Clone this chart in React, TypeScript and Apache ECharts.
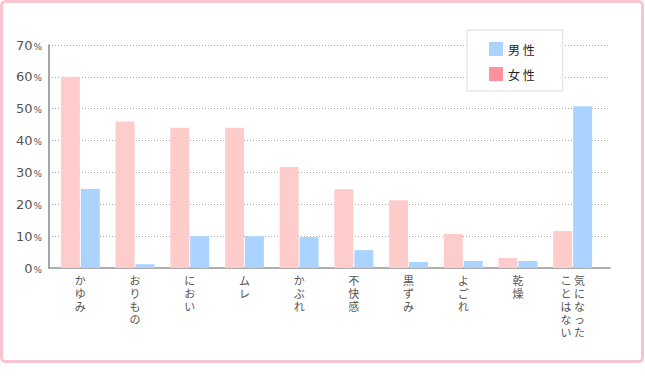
import React, { useEffect, useRef } from "react";
import * as echarts from "echarts";

const categories = ["かゆみ", "おりもの", "におい", "ムレ", "かぶれ", "不快感", "黒ずみ", "よごれ", "乾燥", "気になった\nことはない"];
const femaleValues = [60, 46, 44, 44, 31.7, 24.8, 21.3, 10.7, 3.1, 11.6];
const maleValues = [24.8, 1.2, 10, 10, 9.7, 5.6, 1.9, 2.2, 2.2, 50.8];
const yTicks = [0, 10, 20, 30, 40, 50, 60, 70];
const seriesNames = ["女性", "男性"];

const FEMALE_BAR = "#ffcccc";
const FEMALE_LEGEND = "#ff919f";
const MALE = "#aad4ff";

function verticalLabel(name: string): string {
  const cols = name.split("\n");
  if (cols.length === 1) return cols[0].split("").join("\n");
  // vertical writing: right column first, so left column is the later one
  const right = cols[0].split("");
  const left = cols[1].split("");
  const n = Math.max(right.length, left.length);
  const rows: string[] = [];
  for (let i = 0; i < n; i++) rows.push((left[i] || "\u3000") + " " + (right[i] || "\u3000"));
  return rows.join("\n");
}

export default function App() {
  const ref = useRef<HTMLDivElement>(null);
  useEffect(() => {
    if (!ref.current) return;
    const chart = echarts.init(ref.current, undefined, { renderer: "svg" });
    chart.setOption({
      animation: false,
      backgroundColor: "#ffffff",
      graphic: [
        {
          type: "rect",
          shape: { x: 1.5, y: 1.5, width: 641, height: 360, r: 4 },
          style: { fill: "none", stroke: "#f8c4cf", lineWidth: 3 },
          z: 0,
        },
      ],
      grid: [
        { left: 49, right: 35, top: 45, bottom: 110 },
        { left: 53, right: 45, top: 45, bottom: 110 },
      ],
      legend: {
        orient: "vertical",
        left: 467,
        top: 30,
        padding: [12, 28, 10, 22],
        itemGap: 11,
        itemWidth: 14,
        itemHeight: 14,
        backgroundColor: "#ffffff",
        borderColor: "#dddddd",
        borderWidth: 1,
        icon: "rect",
        data: [
          { name: seriesNames[1], itemStyle: { color: MALE } },
          { name: seriesNames[0], itemStyle: { color: FEMALE_LEGEND } },
        ],
        formatter: (n: string) => n.split("").join(" "),
        textStyle: { fontSize: 12, color: "#222", fontFamily: "Noto Sans CJK JP" },
      },
      xAxis: [
        {
          gridIndex: 0,
          type: "category",
          data: categories,
          axisLine: { lineStyle: { color: "#999", width: 1.5 } },
          axisTick: { show: false },
          axisLabel: { show: false },
          splitLine: { show: false },
        },
        {
          gridIndex: 1,
          type: "category",
          data: categories,
          axisLine: { show: false },
          axisTick: { show: false },
          axisLabel: {
            interval: 0,
            margin: 5,
            fontSize: 11,
            lineHeight: 13,
            color: "#555",
            fontFamily: "Noto Sans CJK JP",
            verticalAlign: "top",
            formatter: (v: string) => verticalLabel(v),
          },
        },
      ],
      yAxis: [
        {
          gridIndex: 0,
          type: "value",
          min: 0,
          max: 70,
          interval: 10,
          axisLine: { show: true, lineStyle: { color: "#888", width: 1.5 } },
          axisTick: { show: false },
          splitLine: { lineStyle: { color: "#aaa", type: [1, 2], width: 1 } },
          axisLabel: {
            margin: 7,
            formatter: (v: number) => (yTicks.includes(v) ? `{n|${v}}{p|%}` : ""),
            rich: {
              n: { fontSize: 13, color: "#555", fontFamily: "DejaVu Sans" },
              p: { fontSize: 9, color: "#555", fontFamily: "DejaVu Sans", padding: [3, 0, 0, 1] },
            },
          },
        },
        {
          gridIndex: 1,
          type: "value",
          min: 0,
          max: 70,
          interval: 10,
          show: false,
          splitLine: { show: false },
        },
      ],
      series: [
        {
          name: seriesNames[0],
          type: "bar",
          xAxisIndex: 1,
          yAxisIndex: 1,
          data: femaleValues,
          barWidth: 19,
          barGap: "5%",
          itemStyle: { color: FEMALE_BAR },
        },
        {
          name: seriesNames[1],
          type: "bar",
          xAxisIndex: 1,
          yAxisIndex: 1,
          data: maleValues,
          barWidth: 19,
          barGap: "5%",
          itemStyle: { color: MALE },
        },
      ],
    });
    return () => chart.dispose();
  }, []);
  return (
    <div
      ref={ref}
      style={{ position: "fixed", left: 0, top: 0, width: 645, height: 378 }}
    />
  );
}
